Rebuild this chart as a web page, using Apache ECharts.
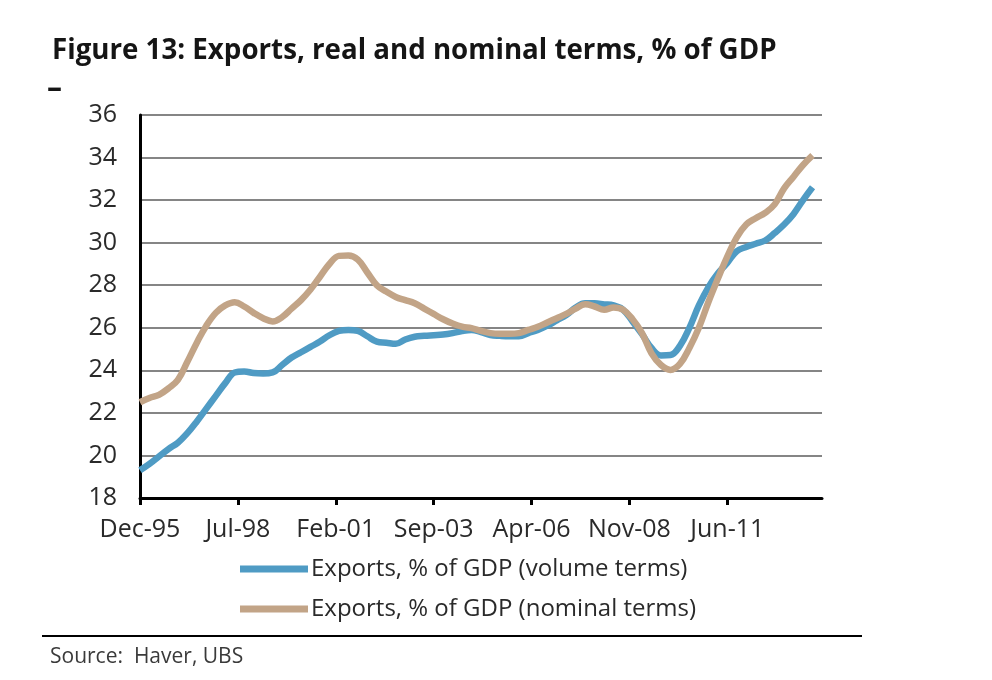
<!DOCTYPE html>
<html><head><meta charset="utf-8">
<script src="https://cdn.jsdelivr.net/npm/echarts@6/dist/echarts.min.js"></script>
<style>html,body{margin:0;padding:0;background:#fff}#c{width:992px;height:680px}</style>
</head><body><div id="c"></div>
<script>
// Months since Dec-1995 at which values were read
const months = [0,3,6,9,12,15,18,21,24,27,30,33,36,39,42,45,48,51,54,57,60,63,66,69,72,75,78,81,84,87,90,93,96,99,102,105,108,111,114,117,120,123,126,129,132,135,138,141,144,147,150,153,156,159,162,165,168,171,174,177,180,183,186,189,192,195,198,201,204,207,210,213];
const volumeTerms = [19.3,19.6,19.95,20.3,20.6,21.05,21.6,22.2,22.8,23.4,23.9,23.95,23.87,23.85,23.9,24.25,24.6,24.85,25.1,25.35,25.65,25.85,25.9,25.85,25.6,25.35,25.3,25.25,25.45,25.58,25.62,25.65,25.68,25.75,25.85,25.9,25.8,25.66,25.62,25.6,25.6,25.75,25.9,26.1,26.35,26.6,26.95,27.15,27.15,27.1,27.05,26.85,26.3,25.7,25.05,24.7,24.72,25.15,26.0,27.05,27.9,28.55,29.05,29.6,29.8,29.95,30.1,30.45,30.85,31.35,32.0,32.6];
const nominalTerms = [22.5,22.7,22.85,23.15,23.55,24.4,25.3,26.1,26.7,27.05,27.2,27.0,26.7,26.45,26.3,26.5,26.9,27.3,27.8,28.4,29.0,29.38,29.4,29.2,28.6,28.0,27.7,27.45,27.3,27.15,26.9,26.65,26.4,26.2,26.05,25.98,25.85,25.75,25.72,25.72,25.75,25.9,26.05,26.25,26.45,26.65,26.9,27.1,27.0,26.85,26.95,26.85,26.4,25.75,24.8,24.25,24.02,24.3,25.05,26.0,27.2,28.3,29.35,30.25,30.85,31.15,31.4,31.8,32.55,33.1,33.65,34.1];
const tickLabels = ['Dec-95','Jul-98','Feb-01','Sep-03','Apr-06','Nov-08','Jun-11'];
const tickMonths = [0,31,62,93,124,155,186];
const seriesNames = ['Exports, % of GDP (volume terms)','Exports, % of GDP (nominal terms)'];

const FONT = '"Open Sans", "Noto Sans", sans-serif';
const chart = echarts.init(document.getElementById('c'), null, {renderer:'canvas'});
const pair = (vals) => months.map((m,i)=>[m, vals[i]]);
chart.setOption({
  animation:false,
  title:{text:'Figure 13: Exports, real and nominal terms, % of GDP', left:47, top:32,
    textStyle:{fontFamily:FONT, fontWeight:'bold', fontSize:27.7, color:'#151515'}},
  grid:{left:140, right:170, top:115, bottom:182, containLabel:false},
  xAxis:{type:'value', min:0, max:216,
    axisLine:{lineStyle:{color:'#000', width:3}},
    axisTick:{show:true, length:7, inside:false, lineStyle:{color:'#000', width:3}, customValues:tickMonths},
    axisLabel:{customValues:tickMonths, formatter:(v)=>{const i=tickMonths.indexOf(v);return i>=0?tickLabels[i]:'';},
      fontFamily:FONT, fontSize:25, color:'#2a2a2a', margin:19},
    splitLine:{show:false}},
  yAxis:{type:'value', min:18, max:36, interval:2,
    axisLine:{show:true, lineStyle:{color:'#000', width:3}},
    axisTick:{show:false},
    axisLabel:{fontFamily:FONT, fontSize:25, color:'#2a2a2a', margin:23},
    splitLine:{lineStyle:{color:'#858585', width:2}}},
  legend:{orient:'vertical', left:235, top:552, itemWidth:68, itemHeight:7, itemGap:16,
    icon:'rect', textStyle:{fontFamily:FONT, fontSize:24, lineHeight:24, color:'#2a2a2a', padding:[0,0,0,-2]},
    data:seriesNames},
  series:[
    {name:seriesNames[0], type:'line', data:pair(volumeTerms), smooth:0.4, showSymbol:false,
      lineStyle:{color:'#4f9bc4', width:6.5}, itemStyle:{color:'#4f9bc4'}, z:2},
    {name:seriesNames[1], type:'line', data:pair(nominalTerms), smooth:0.4, showSymbol:false,
      lineStyle:{color:'#c2a487', width:6.5}, itemStyle:{color:'#c2a487'}, z:3}
  ],
  graphic:[
    {type:'text', left:47, top:74, style:{text:'–', font:'bold 30px '+FONT, fill:'#151515'}},
    {type:'line', shape:{x1:42,y1:636,x2:862,y2:636}, style:{stroke:'#000', lineWidth:2}},
    {type:'text', left:50, top:647, style:{text:'Source:  Haver, UBS', font:'21px '+FONT, fill:'#3a3a3a'}}
  ]
});
</script></body></html>
